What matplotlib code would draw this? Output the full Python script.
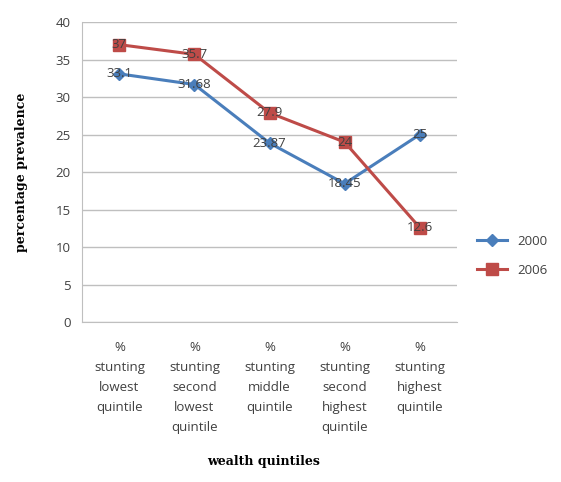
import numpy as np
import matplotlib.pyplot as plt

categories = ["%\nstunting\nlowest\nquintile", "%\nstunting\nsecond\nlowest\nquintile",
              "%\nstunting\nmiddle\nquintile", "%\nstunting\nsecond\nhighest\nquintile",
              "%\nstunting\nhighest\nquintile"]
vals_2000 = [33.1, 31.68, 23.87, 18.45, 25]
vals_2006 = [37, 35.7, 27.9, 24, 12.6]
yticks = [0, 5, 10, 15, 20, 25, 30, 35, 40]

blue = "#4a7ebb"
red = "#be4b48"
txt = "#404040"

fig = plt.figure(figsize=(5.61, 4.82), dpi=100)
ax = fig.add_axes([0.146, 0.332, 0.669, 0.622])

x = np.arange(len(categories))
ax.plot(x, vals_2000, color=blue, lw=2.2, marker="D", ms=6, label="2000", zorder=3)
ax.plot(x, vals_2006, color=red, lw=2.2, marker="s", ms=8, label="2006", zorder=3)

for xi, v in zip(x, vals_2000):
    ax.text(xi, v, f"{v:g}", ha="center", va="center", fontsize=9.5, color=txt,
            family="Open Sans", zorder=4)
for xi, v in zip(x, vals_2006):
    ax.text(xi, v, f"{v:g}", ha="center", va="center", fontsize=9.5, color=txt,
            family="Open Sans", zorder=4)

ax.set_xlim(-0.5, 4.5)
ax.set_ylim(0, 40)
ax.set_yticks(yticks)
ax.set_xticks(x)
ax.set_xticklabels(categories, fontsize=9.5, color=txt, family="Open Sans", linespacing=1.7)
ax.tick_params(axis="y", labelsize=9.5, labelcolor=txt, length=0, pad=8)
ax.tick_params(axis="x", length=0, pad=14)
for lab in ax.get_yticklabels():
    lab.set_family("Open Sans")
ax.grid(axis="y", color="#bfbfbf", lw=1)
ax.set_axisbelow(True)
for s in ["top", "right"]:
    ax.spines[s].set_visible(False)
ax.spines["left"].set_color("#bfbfbf")
ax.spines["bottom"].set_color("#bfbfbf")

ax.set_ylabel("percentage prevalence", family="DejaVu Serif", fontweight="bold",
              fontsize=9, labelpad=20)
fig.text(0.47, 0.035, "wealth quintiles", family="DejaVu Serif", fontweight="bold",
         fontsize=9, ha="center")

leg = ax.legend(loc="center left", bbox_to_anchor=(1.02, 0.22), frameon=False,
                prop={"family": "Open Sans", "size": 9.5}, handlelength=2.3,
                labelspacing=1.2)
for t in leg.get_texts():
    t.set_color(txt)

fig.savefig("out.png", dpi=100)
